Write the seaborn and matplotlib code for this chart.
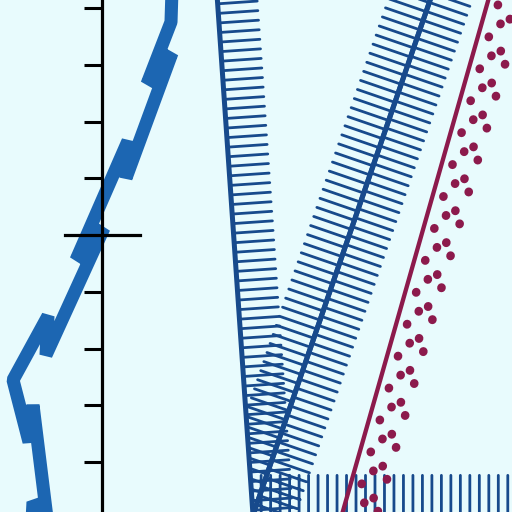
import matplotlib
matplotlib.use("Agg")
import matplotlib.pyplot as plt
import matplotlib.patheffects as pe
import matplotlib.transforms as mtransforms
from matplotlib.patches import Polygon
from matplotlib.ticker import MultipleLocator
import pandas as pd
import seaborn as sns

# thick wobbly trace, x/y measured from the axis cross
trace_x = [70, 69, 45, 70, 24, 26, -26, 2, -56, -54, -89, -73, -69, -55, -69, -71]
trace_y = [245, 213, 151, 182, 57, 94, -25, 7, -120, -81, -145, -207, -170, -283, -267, -305]

# V shaped front: left leg going down, right leg going up (ticks inside)
left_leg_x = [114, 151]
left_leg_y = [255, -280]
right_leg_x = [151, 335]
right_leg_y = [-280, 255]

# right leg + floor (ticks outside / upward)
floor_x = [335, 151, 420]
floor_y = [255, -280, -280]

# crimson boundary
edge_x = [392, 235]
edge_y = [255, -297]

# dotted rows to the right of the boundary
dot_shift = [11, 19, 27, 35]        # px
dot_phase = [19.6, 5.4, 15.8, 3.1]  # pt

tick_step = 56.75

BG = "#e8fbfd"
BLUE = "#1c66b2"
NAVY = "#174a8c"
CRIMSON = "#8c1a4c"

sns.set_theme(style="white")
plt.rcParams["lines.scale_dashes"] = False

fig = plt.figure(figsize=(5.12, 5.12), dpi=100, facecolor=BG)
ax = fig.add_axes([0, 0, 1, 1])
ax.set_facecolor(BG)

trace = pd.DataFrame({"x": trace_x, "y": trace_y})
sns.lineplot(data=trace, x="x", y="y", sort=False, estimator=None, ax=ax,
             color=BLUE, lw=9.4, solid_joinstyle="bevel", solid_capstyle="butt")

ticked = [pe.withTickedStroke(spacing=6.8, angle=90, length=4.2, linewidth=2.0)]
sns.lineplot(x=left_leg_x, y=left_leg_y, sort=False, estimator=None, ax=ax,
             color=NAVY, lw=3.6, path_effects=ticked)
sns.lineplot(x=right_leg_x, y=right_leg_y, sort=False, estimator=None, ax=ax,
             color=NAVY, lw=3.6, path_effects=ticked)
# inner ticks of the right leg stop at the left leg
inside = Polygon([(left_leg_x[0], left_leg_y[0]), (left_leg_x[1], left_leg_y[1]),
                  (500, left_leg_y[1]), (500, left_leg_y[0])],
                 transform=ax.transData, visible=False)
ax.add_patch(inside)
ax.lines[-1].set_clip_path(inside)

sns.lineplot(x=floor_x, y=floor_y, sort=False, estimator=None, ax=ax,
             color=NAVY, lw=3.6, path_effects=ticked)

sns.lineplot(x=edge_x, y=edge_y, sort=False, estimator=None, ax=ax,
             color=CRIMSON, lw=3.1)

for shift, phase in zip(dot_shift, dot_phase):
    sns.lineplot(x=edge_x, y=edge_y, sort=False, estimator=None, ax=ax,
                 color=CRIMSON, lw=6.2)
    line = ax.lines[-1]
    line.set_linestyle((phase, (0.3, 23.6)))
    line.set_dash_capstyle("round")
    line.set_transform(ax.transData + mtransforms.ScaledTranslation(
        shift / fig.dpi, 0, fig.dpi_scale_trans))

ax.set_xlim(-102, 410)
ax.set_ylim(-277, 235)
ax.set_xlabel("")
ax.set_ylabel("")

for side in ["top", "right"]:
    ax.spines[side].set_visible(False)
ax.spines["left"].set_position(("data", 0))
ax.spines["bottom"].set_position(("data", 0))
ax.spines["bottom"].set_bounds(-37, 38)
for side in ["left", "bottom"]:
    ax.spines[side].set_color("black")
    ax.spines[side].set_linewidth(2.3)

ax.set_xticks([])
ax.yaxis.set_major_locator(MultipleLocator(tick_step))
ax.tick_params(axis="y", left=True, direction="out", length=13, width=2.2,
               color="black", labelleft=False)
ax.grid(False)

fig.savefig("out.png", dpi=100, facecolor=BG)
